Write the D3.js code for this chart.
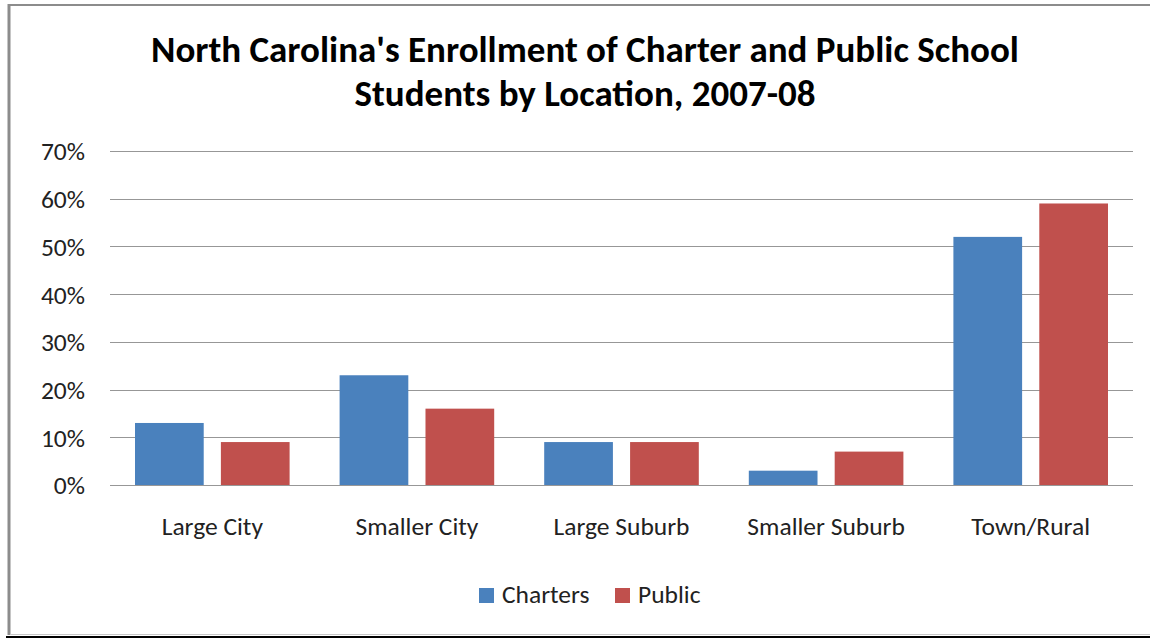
<!DOCTYPE html>
<html><head><meta charset="utf-8">
<script src="https://cdn.jsdelivr.net/npm/d3@7"></script>
<style>body{margin:0;background:#fff}svg{display:block}text{font-family:Carlito,Lato,"Open Sans",sans-serif}</style>
</head><body><svg id="c" width="1150" height="638"></svg>
<script>
const categories = ["Large City","Smaller City","Large Suburb","Smaller Suburb","Town/Rural"];
const seriesNames = ["Charters","Public"];
const charters = [13,23,9,3,52];
const publicVals = [9,16,9,7,59];
const yTicks = [0,10,20,30,40,50,60,70];
const titleLines = ["North Carolina's Enrollment of Charter and Public School","Students by Location, 2007-08"];
const colors = ["#4A81BD","#C0504D"];

const svg = d3.select("#c");
// frame
svg.append("rect").attr("x",0).attr("y",0).attr("width",1150).attr("height",638).attr("fill","#fff");
svg.append("line").attr("x1",9).attr("x2",9).attr("y1",4).attr("y2",635).attr("stroke","#8c8c8c").attr("stroke-width",3);
svg.append("line").attr("x1",8).attr("x2",1150).attr("y1",5).attr("y2",5).attr("stroke","#8c8c8c").attr("stroke-width",2);
svg.append("line").attr("x1",10).attr("x2",1150).attr("y1",634.5).attr("y2",634.5).attr("stroke","#c8c8c8").attr("stroke-width",1);
svg.append("line").attr("x1",6).attr("x2",1150).attr("y1",637).attr("y2",637).attr("stroke","#000").attr("stroke-width",2);

const L=110,R=1133,T=151,B=485;
const x0 = d3.scaleBand().domain(categories).range([L,R]).paddingInner(0).paddingOuter(0);
const x1 = d3.scaleBand().domain(seriesNames).range([25,x0.bandwidth()-25]).paddingInner(0.2);
const y = d3.scaleLinear().domain([0,70]).range([B,T]);

const grid = svg.append("g");
grid.selectAll("line").data(yTicks).join("line")
  .attr("x1",L).attr("x2",R).attr("y1",d=>Math.round(y(d))+0.5).attr("y2",d=>Math.round(y(d))+0.5)
  .attr("stroke","#979797").attr("stroke-width",1.2);

const yAxis = d3.axisLeft(y).tickValues(yTicks).tickFormat(d=>d+"%").tickSize(0).tickPadding(0);
const ya = svg.append("g").attr("transform",`translate(85,0)`).call(yAxis);
ya.select(".domain").remove();
ya.selectAll("text").attr("font-size",25.5).attr("fill","#222").attr("font-family","Carlito,Lato,sans-serif").attr("dy","0.35em");

const data = categories.map((c,i)=>({c, vals:[charters[i],publicVals[i]]}));
const g = svg.append("g");
g.selectAll("g").data(data).join("g").attr("transform",d=>`translate(${x0(d.c)},0)`)
  .selectAll("rect").data(d=>d.vals.map((v,j)=>({s:seriesNames[j],v,j}))).join("rect")
  .attr("x",d=>x1(d.s)).attr("width",x1.bandwidth())
  .attr("y",d=>y(d.v)).attr("height",d=>B-y(d.v))
  .attr("fill",d=>colors[d.j]);

const xAxis = d3.axisBottom(x0).tickSize(0).tickPadding(0);
const xa = svg.append("g").attr("transform",`translate(0,${B})`).call(xAxis);
xa.select(".domain").remove();
xa.selectAll("text").attr("font-size",25.5).attr("fill","#222").attr("font-family","Carlito,Lato,sans-serif").attr("dy",0).attr("y",50);

svg.append("g").selectAll("text").data(titleLines).join("text")
  .attr("x",585).attr("y",(d,i)=>62+i*44).attr("text-anchor","middle")
  .attr("font-size",37).attr("font-weight","bold").attr("fill","#000").text(d=>d);

const leg = svg.append("g");
const lx = [479,615];
seriesNames.forEach((s,i)=>{
  leg.append("rect").attr("x",lx[i]).attr("y",588).attr("width",15).attr("height",15).attr("fill",colors[i]);
  leg.append("text").attr("x",lx[i]+23).attr("y",603).attr("font-size",25.5).attr("fill","#222").text(s);
});
</script></body></html>
